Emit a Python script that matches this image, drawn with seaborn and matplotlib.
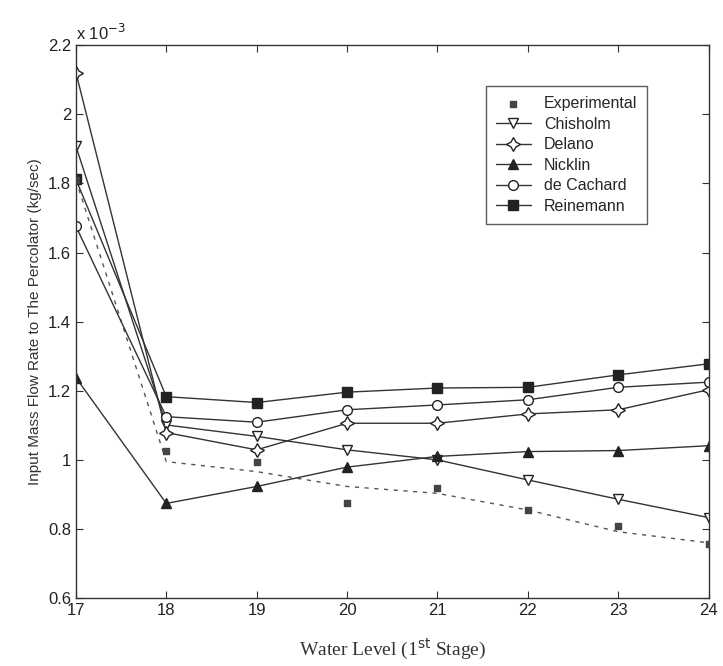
import matplotlib
matplotlib.use("Agg")
import matplotlib.pyplot as plt
import seaborn as sns
import pandas as pd

sns.set_theme(style="white")
plt.rcParams['font.family'] = ['Liberation Sans', 'DejaVu Sans']

# Data (values in units of 1e-3 kg/sec)
water_level = [17, 18, 19, 20, 21, 22, 23, 24]
experimental = [1.81, 1.027, 0.995, 0.876, 0.918, 0.855, 0.809, 0.757]
experimental_trend = [1.81, 0.995, 0.966, 0.923, 0.903, 0.855, 0.792, 0.760]
chisholm = [1.908, 1.101, 1.068, 1.029, 1.000, 0.942, 0.886, 0.833]
delano = [2.121, 1.079, 1.029, 1.106, 1.106, 1.133, 1.145, 1.203]
nicklin = [1.238, 0.874, 0.923, 0.979, 1.010, 1.024, 1.027, 1.041]
de_cachard = [1.676, 1.125, 1.109, 1.145, 1.159, 1.174, 1.210, 1.225]
reinemann = [1.812, 1.183, 1.166, 1.196, 1.208, 1.210, 1.246, 1.278]

yticks = [0.6, 0.8, 1.0, 1.2, 1.4, 1.6, 1.8, 2.0, 2.2]
ytick_labels = ["0.6", "0.8", "1", "1.2", "1.4", "1.6", "1.8", "2", "2.2"]

fig = plt.figure(figsize=(7.23, 6.66), dpi=100)
ax = fig.add_axes([0.105, 0.102, 0.875, 0.830])

line_color = "#333333"
lw = 1.0

# dashed trend of experimental data
sns.lineplot(x=water_level, y=experimental_trend, ax=ax, color="#555555",
             linestyle=(0, (3, 4)), linewidth=1.0, legend=False)

series = [
    ("Chisholm", chisholm, "v", "white", 7),
    ("Delano", delano, (4, 1, 0), "white", 10),
    ("Nicklin", nicklin, "^", "#222222", 7),
    ("de Cachard", de_cachard, "o", "white", 7),
    ("Reinemann", reinemann, "s", "#222222", 6.5),
]

ax.scatter(water_level, experimental, marker="s", s=20, color="#444444",
           zorder=5, label="Experimental")
for name, vals, mk, fc, ms in series:
    df = pd.DataFrame({"x": water_level, "y": vals})
    sns.lineplot(data=df, x="x", y="y", ax=ax, color=line_color, linewidth=lw,
                 marker=mk, markersize=ms, markerfacecolor=fc,
                 markeredgecolor="#222222", markeredgewidth=1.0, label=name)

ax.set_xlim(17, 24)
ax.set_ylim(0.6, 2.2)
ax.set_xticks(water_level)
ax.set_xticklabels([str(v) for v in water_level])
ax.set_yticks(yticks)
ax.set_yticklabels(ytick_labels)
ax.tick_params(direction="in", length=5, width=0.8, colors="#333333",
               labelsize=12, top=True, right=True, bottom=True, left=True,
               labelcolor="#222222")
for s in ax.spines.values():
    s.set_color("#333333")
    s.set_linewidth(1.0)

ax.set_ylabel("Input Mass Flow Rate to The Percolator (kg/sec)", fontsize=11,
              color="#333333", labelpad=4)
ax.set_xlabel("Water Level (1$^{\\mathrm{st}}$ Stage)", fontsize=14,
              family=["Liberation Serif", "DejaVu Serif"], color="#333333", labelpad=14)
ax.text(0.0, 1.005, "x 10$^{-3}$", transform=ax.transAxes, fontsize=12,
        color="#222222", ha="left", va="bottom")

h, l = ax.get_legend_handles_labels()
order = ["Experimental", "Chisholm", "Delano", "Nicklin", "de Cachard", "Reinemann"]
hd = dict(zip(l, h))
leg = ax.legend([hd[k] for k in order], order, loc="upper left",
                bbox_to_anchor=(0.636, 0.94), fontsize=11.5, frameon=True,
                fancybox=False, edgecolor="#333333", handlelength=2.2,
                borderpad=0.6, labelspacing=0.35)
leg.get_frame().set_linewidth(1.0)

ax.grid(False)
fig.savefig("out.png", dpi=100, facecolor="white")
